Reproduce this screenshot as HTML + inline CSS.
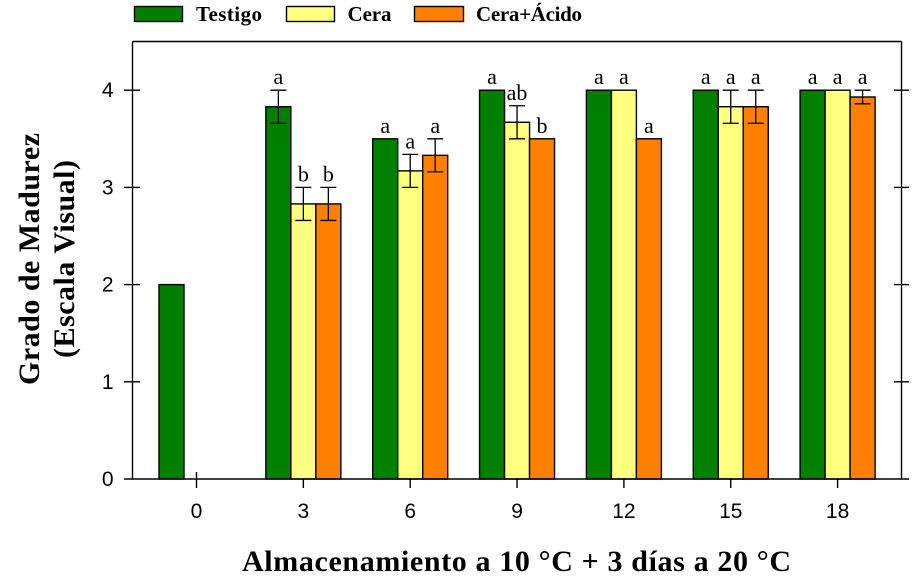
<!DOCTYPE html>
<html lang="es">
<head>
<meta charset="utf-8">
<title>Grado de Madurez</title>
<style>
html,body{margin:0;padding:0;background:#fff;width:917px;height:579px;overflow:hidden}
svg{display:block}
.serif{font-family:"Liberation Serif",serif;fill:#000}
.sans{font-family:"Liberation Sans",sans-serif;fill:#000}
</style>
</head>
<body>
<svg id="chart" width="917" height="579" viewBox="0 0 917 579" xmlns="http://www.w3.org/2000/svg">
  <g>
    <rect x="134.5" y="6.5" width="48" height="15" fill="#007f00" stroke="#000" stroke-width="1.4"/>
    <text class="serif" x="196" y="21" font-size="21" font-weight="bold" textLength="66" lengthAdjust="spacing">Testigo</text>
    <rect x="286.5" y="6.5" width="48" height="15" fill="#ffff80" stroke="#000" stroke-width="1.4"/>
    <text class="serif" x="347.5" y="21" font-size="21" font-weight="bold" textLength="44" lengthAdjust="spacing">Cera</text>
    <rect x="414.5" y="6.5" width="49" height="15" fill="#ff8000" stroke="#000" stroke-width="1.4"/>
    <text class="serif" x="476" y="21" font-size="21" font-weight="bold" textLength="106" lengthAdjust="spacing">Cera+Ácido</text>
  </g>
  <text class="serif" transform="translate(39,385) rotate(-90)" font-size="30" font-weight="bold" textLength="252" lengthAdjust="spacing">Grado de Madurez</text>
  <text class="serif" transform="translate(74,358) rotate(-90)" font-size="30" font-weight="bold" textLength="198" lengthAdjust="spacing">(Escala Visual)</text>
  <text class="serif" x="242" y="571" font-size="30" font-weight="bold" textLength="549" lengthAdjust="spacing">Almacenamiento a 10 °C + 3 días a 20 °C</text>
  <g id="plot"></g>
</svg>
<script>
const categories = ["0", "3", "6", "9", "12", "15", "18"];
const yTicks = [0, 1, 2, 3, 4];
const testigoValues = [2, 3.83, 3.5, 4, 4, 4, 4];
const ceraValues = [null, 2.83, 3.17, 3.67, 4, 3.83, 4];
const acidoValues = [null, 2.83, 3.33, 3.5, 3.5, 3.83, 3.93];
const testigoErrors = [0, 0.17, 0, 0, 0, 0, 0];
const ceraErrors = [0, 0.17, 0.17, 0.17, 0, 0.17, 0];
const acidoErrors = [0, 0.17, 0.17, 0, 0, 0.17, 0.07];
const testigoLetters = ["", "a", "a", "a", "a", "a", "a"];
const ceraLetters = ["", "b", "a", "ab", "a", "a", "a"];
const acidoLetters = ["", "b", "a", "b", "a", "a", "a"];
const seriesNames = ["testigo", "cera", "cera-acido"];

const NS = "http://www.w3.org/2000/svg";
const plot = document.getElementById("plot");
const xScale = function (i) { return 196.5 + i * 106.85; };
const yScale = function (v) { return 479 - v * 97.2; };
const BAR_W = 25;
const COLORS = ["#007f00", "#ffff80", "#ff8000"];
const VALUES = [testigoValues, ceraValues, acidoValues];
const ERRORS = [testigoErrors, ceraErrors, acidoErrors];
const LETTERS = [testigoLetters, ceraLetters, acidoLetters];

function make(tag, attrs) {
  const el = document.createElementNS(NS, tag);
  Object.keys(attrs).forEach(function (k) { el.setAttribute(k, attrs[k]); });
  plot.appendChild(el);
  return el;
}
function line(x1, y1, x2, y2, w) {
  return make("line", { x1: x1, y1: y1, x2: x2, y2: y2, stroke: "#000", "stroke-width": w || 1.4 });
}

let el;
el = line(132.5, 41.5, 901.5, 41.5);


el = line(132.5, 41.5, 132.5, 479);


el = line(901.5, 41.5, 901.5, 479);



VALUES.forEach(function (vals, s) {
  vals.forEach(function (v, i) {
    if (v === null) return;
    const left = xScale(i) + (s - 1.5) * BAR_W;
    const bar = make("rect", {
      x: left, y: yScale(v), width: BAR_W, height: yScale(0) - yScale(v),
      fill: COLORS[s], stroke: "#000", "stroke-width": 1.4
    });
    
    
  });
});

VALUES.forEach(function (vals, s) {
  vals.forEach(function (v, i) {
    if (v === null) return;
    const cx = xScale(i) + (s - 1) * BAR_W;
    const err = ERRORS[s][i];
    let top = yScale(v);
    if (err > 0) {
      top = yScale(v + err);
      const bottom = yScale(v - err);
      const eb = make("path", {
        d: "M" + cx + " " + top + "V" + bottom + "M" + (cx - 8) + " " + top + "H" + (cx + 8) + "M" + (cx - 8) + " " + bottom + "H" + (cx + 8),
        fill: "none", stroke: "#000", "stroke-width": 1.3
      });
      
      
    }
    const label = LETTERS[s][i];
    if (label) {
      const t = make("text", { x: cx, y: top - 6, "text-anchor": "middle", "font-size": 22, class: "serif" });
      t.textContent = label;
      
      
    }
  });
});

el = line(124, 479, 909, 479);



yTicks.forEach(function (v) {
  const y = yScale(v);
  if (v > 0) {
    const lt = line(124, y, 140, y);
    
    
    const rt = line(894, y, 909, y);
    
    
  }
  const t = make("text", { x: 113.5, y: y + 7, "text-anchor": "end", "font-size": 21, class: "sans" });
  t.textContent = String(v);
  
  
});

categories.forEach(function (c, i) {
  const x = xScale(i);
  const tk = line(x, i === 0 ? 472 : 479, x, 488);
  
  
  const t = make("text", { x: x, y: 518, "text-anchor": "middle", "font-size": 21, class: "sans" });
  t.textContent = c;
  
  
});
</script>
</body>
</html>
